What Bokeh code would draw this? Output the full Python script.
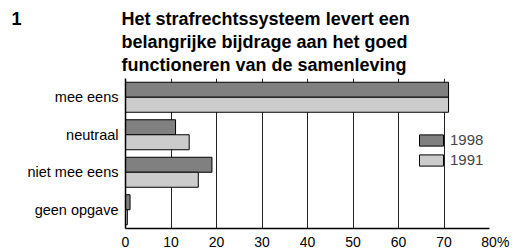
from bokeh.plotting import figure
from bokeh.models import FactorRange, Range1d, FixedTicker, ColumnDataSource, Legend, LegendItem
from bokeh.transform import dodge
from bokeh.embed import file_html
from bokeh.resources import INLINE

categories = ["mee eens", "neutraal", "niet mee eens", "geen opgave"]
values_1998 = [71, 11, 19, 1]
values_1991 = [71, 14, 16, 0.4]
series_names = ["1998", "1991"]
x_ticks = [0, 10, 20, 30, 40, 50, 60, 70, 80]
title_lines = ["Het strafrechtssysteem levert een",
               "belangrijke bijdrage aan het goed",
               "functioneren van de samenleving"]
chart_number = "1"

FONT = "Liberation Sans"
NB = "\u00a0"

src = ColumnDataSource(dict(cat=categories, v98=values_1998, v91=values_1991))

p = figure(frame_width=364, frame_height=150, output_backend="svg", toolbar_location=None,
           y_range=FactorRange(factors=list(reversed(categories))),
           x_range=Range1d(0, 80),
           min_border_left=125, min_border_right=23, min_border_top=78, min_border_bottom=21)
p.outline_line_color = None
p.background_fill_color = "white"
p.border_fill_color = "white"

r98 = p.hbar(y=dodge("cat", 0.2, range=p.y_range), right="v98", left=0, height=0.4,
             source=src, fill_color="#808080", line_color="black", line_width=1)
r91 = p.hbar(y=dodge("cat", -0.2, range=p.y_range), right="v91", left=0, height=0.4,
             source=src, fill_color="#cccccc", line_color="black", line_width=1)

# chart number shares the first title line (title starts at the left page edge)
title_text = "\n".join([chart_number + NB * 20 + title_lines[0],
                        NB * 22 + title_lines[1],
                        NB * 22 + title_lines[2]])
p.title.text = title_text
p.title.text_font = FONT
p.title.text_font_size = "18px"
p.title.text_font_style = "bold"
p.title.text_color = "black"
p.title.text_line_height = 1.16
p.title.align = "left"
p.title.offset = -114
p.title.standoff = 6

p.xaxis.ticker = FixedTicker(ticks=x_ticks)
p.xaxis.major_label_overrides = {80: NB * 3 + "80%"}
for ax in (p.xaxis, p.yaxis):
    ax.axis_line_color = "black"
    ax.axis_line_width = 1.5
    ax.major_tick_in = 0
    ax.major_tick_out = 0
    ax.minor_tick_in = 0
    ax.minor_tick_out = 0
    ax.major_label_text_font = FONT
    ax.major_label_text_color = "black"
p.xaxis.major_label_text_font_size = "14px"
p.yaxis.major_label_text_font_size = "14.5px"
p.xaxis.major_label_standoff = 5
p.yaxis.major_label_standoff = 7

p.ygrid.grid_line_color = None
p.xgrid.grid_line_color = "#222222"
p.xgrid.grid_line_width = 1

legend = Legend(items=[LegendItem(label=series_names[0], renderers=[r98]),
                       LegendItem(label=series_names[1], renderers=[r91])],
                location=(291, 60), orientation="vertical",
                glyph_width=30, glyph_height=14, label_height=14,
                label_standoff=4, spacing=3, padding=0, margin=0,
                border_line_color=None, background_fill_alpha=0,
                label_text_font=FONT, label_text_font_size="15px")
p.add_layout(legend)

open("out.html", "w").write(file_html(p, INLINE))
